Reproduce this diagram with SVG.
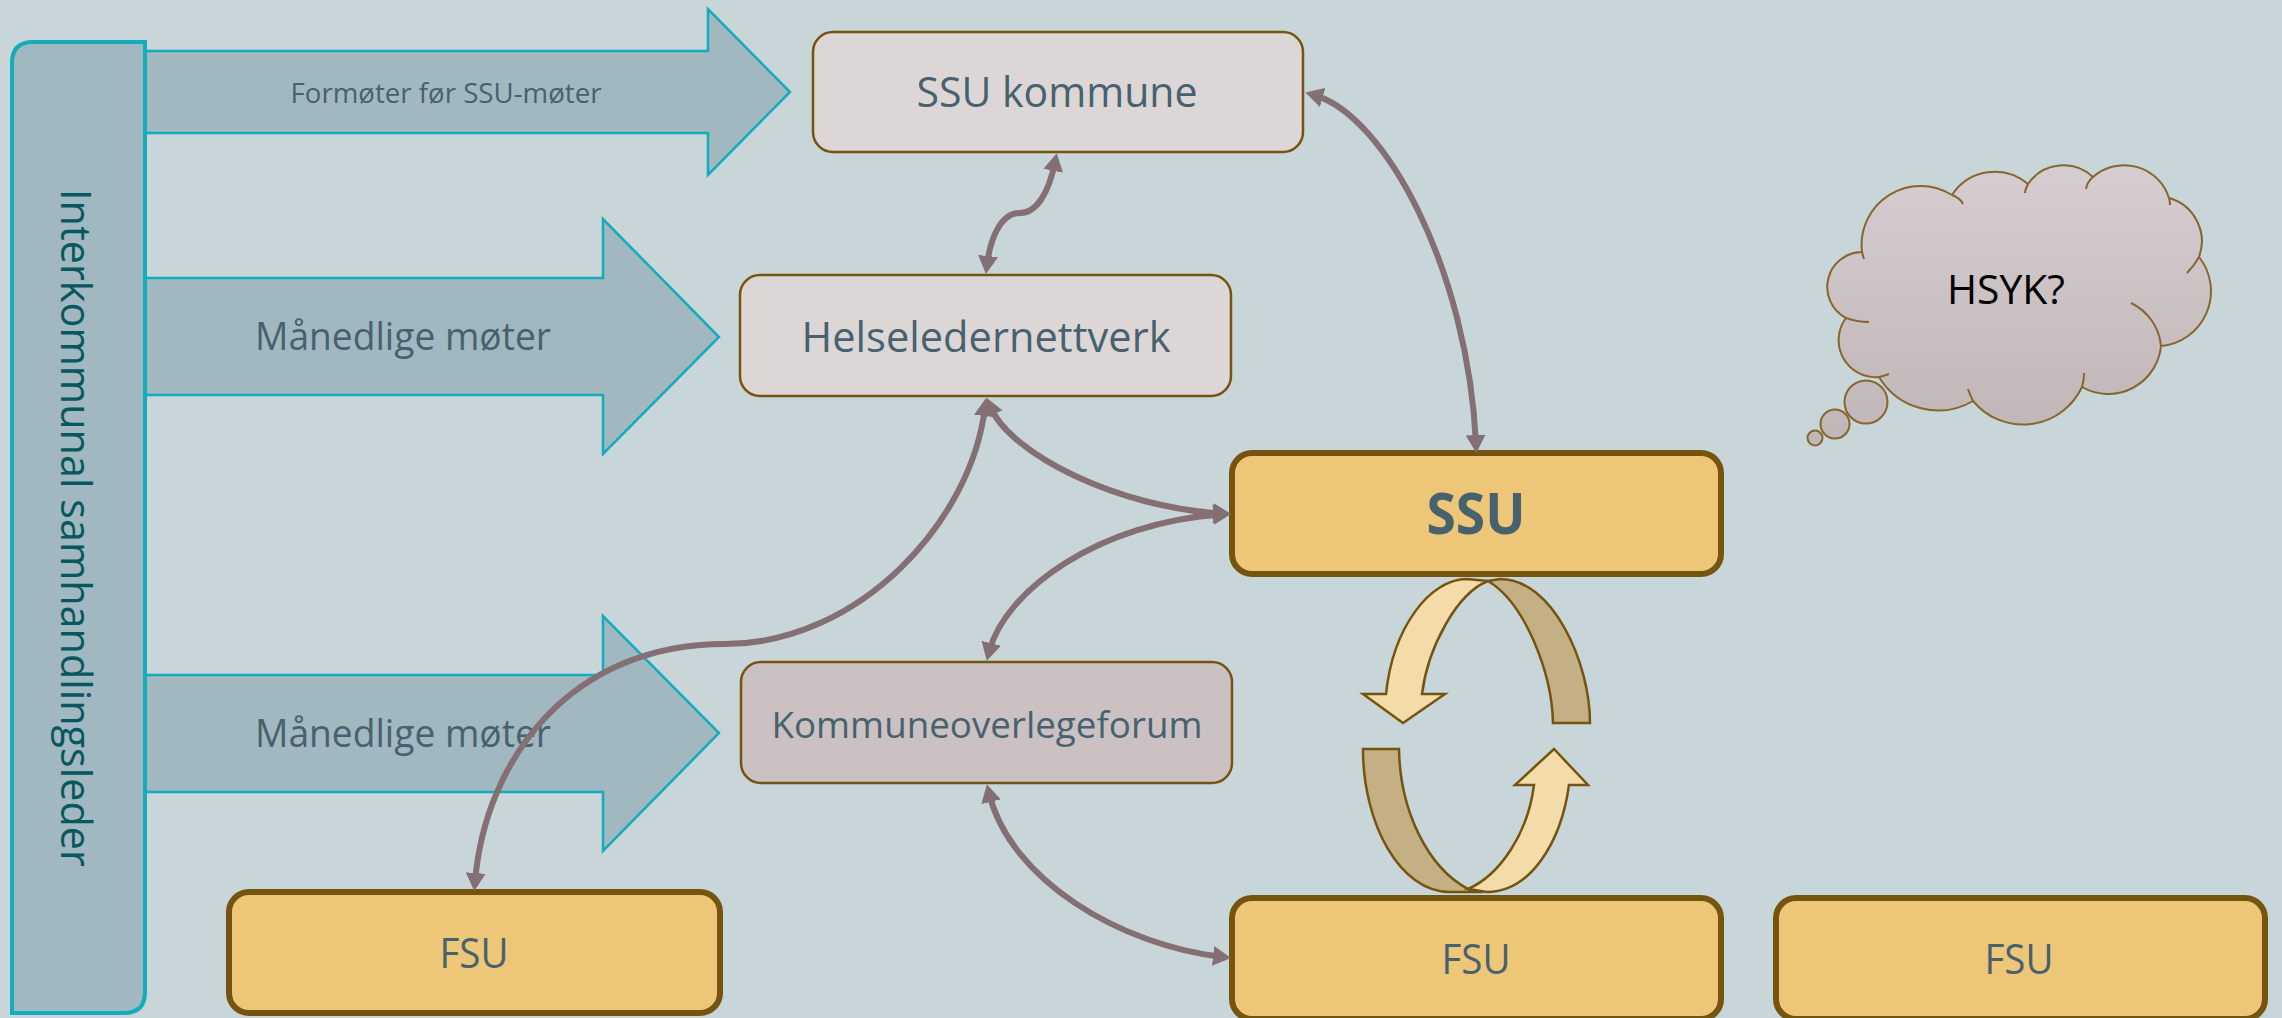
<svg xmlns="http://www.w3.org/2000/svg" width="2282" height="1018" viewBox="0 0 2282 1018">
<style>
.bar{fill:#a2b8c0;stroke:#12acbc;stroke-width:4}
.arw{fill:#a2b8c0;stroke:#12acbc;stroke-width:2.5;stroke-linejoin:miter}
.lt{stroke:#75540f;stroke-width:2.5}
.big{fill:#edc678;stroke:#75540f;stroke-width:6}
.t{font-family:"Open Sans","Noto Sans",sans-serif;fill:#47626e;text-anchor:middle}
.c{fill:none;stroke:#846f75;stroke-width:6;marker-start:url(#ms);marker-end:url(#me)}
.dk{fill:#c4b084;stroke:#75540f;stroke-width:2.5;stroke-linejoin:miter}
.li{fill:#f3dca9;stroke:#75540f;stroke-width:2.5;stroke-linejoin:miter}
.cl{fill:url(#cg);stroke:#86662c;stroke-width:2}
.cn{fill:none;stroke:#86662c;stroke-width:2}
</style>
<defs>
<linearGradient id="cg" gradientUnits="userSpaceOnUse" x1="0" y1="165" x2="0" y2="425"><stop offset="0" stop-color="#d6cdd1"/><stop offset="1" stop-color="#c1b7b8"/></linearGradient>
<marker id="me" markerUnits="userSpaceOnUse" viewBox="0 0 18 20" markerWidth="18" markerHeight="20" refX="9" refY="10" orient="auto"><path d="M0 0L18 10L0 20Z" fill="#846f75"/></marker>
<marker id="ms" markerUnits="userSpaceOnUse" viewBox="0 0 18 20" markerWidth="18" markerHeight="20" refX="9" refY="10" orient="auto"><path d="M18 0L0 10L18 20Z" fill="#846f75"/></marker>
</defs>
<rect width="2282" height="1018" fill="#c8d5d9"/>

<g id="arrow-formoter"><path class="arw" d="M145 51H708V9L790 92L708 175V133H145Z"/>
<text class="t" x="446" y="103" font-size="28" textLength="311" lengthAdjust="spacingAndGlyphs">Formøter før SSU-møter</text></g>
<g id="arrow-maanedlige-1"><path class="arw" d="M145 278H603V219L719 337L603 454V395H145Z"/>
<text class="t" x="403" y="350" font-size="39" textLength="296" lengthAdjust="spacingAndGlyphs">Månedlige møter</text></g>
<g id="arrow-maanedlige-2"><path class="arw" d="M145 675H603V616L719 733L603 851V792H145Z"/>
<text class="t" x="403" y="747" font-size="39" textLength="296" lengthAdjust="spacingAndGlyphs">Månedlige møter</text></g>
<g id="interkommunal"><path class="bar" d="M12 63Q12 42 33 42H145V992Q145 1013 124 1013H12Z"/>
<text transform="translate(61 528) rotate(90)" font-family="'Open Sans','Noto Sans',sans-serif" fill="#07575f" text-anchor="middle" font-size="42" textLength="678" lengthAdjust="spacingAndGlyphs">Interkommunal samhandlingsleder</text></g>

<g id="ssu-kommune"><rect class="lt" x="813" y="32" width="490" height="120" rx="20" fill="#dcd6d7"/>
<text class="t" x="1057" y="107" font-size="42" textLength="281" lengthAdjust="spacingAndGlyphs">SSU kommune</text></g>
<g id="helseledernettverk"><rect class="lt" x="740" y="275" width="491" height="121" rx="20" fill="#dcd6d7"/>
<text class="t" x="986" y="352" font-size="42" textLength="369" lengthAdjust="spacingAndGlyphs">Helseledernettverk</text></g>
<g id="kommuneoverlegeforum"><rect class="lt" x="741" y="662" width="491" height="121" rx="20" fill="#cbc1c2"/>
<text class="t" x="987" y="738" font-size="36" textLength="431" lengthAdjust="spacingAndGlyphs">Kommuneoverlegeforum</text></g>
<g id="ssu"><rect class="big" x="1232" y="453" width="489" height="121" rx="20"/>
<text class="t" x="1476" y="534" font-size="58" font-weight="700" textLength="99" lengthAdjust="spacingAndGlyphs">SSU</text></g>
<g id="fsu-1"><rect class="big" x="229" y="892" width="491" height="121" rx="20"/>
<text class="t" x="474" y="968" font-size="42" textLength="69" lengthAdjust="spacingAndGlyphs">FSU</text></g>
<g id="fsu-2"><rect class="big" x="1232" y="898" width="489" height="121" rx="20"/>
<text class="t" x="1476" y="974" font-size="42" textLength="69" lengthAdjust="spacingAndGlyphs">FSU</text></g>
<g id="fsu-3"><rect class="big" x="1776" y="898" width="489" height="121" rx="20"/>
<text class="t" x="2019" y="974" font-size="42" textLength="69" lengthAdjust="spacingAndGlyphs">FSU</text></g>

<g id="cycle">
<path class="dk" d="M1488 581L1500 579C1553 579 1590 663 1590 723H1553C1552 673 1525 603 1488 581Z"/>
<path class="li" d="M1386 694C1393 627 1430 579 1467 579L1488 581C1457 593 1428 647 1422 694H1445L1403 723L1363 694Z"/>
<path class="dk" d="M1363 749H1399C1400 810 1427 867 1468 889L1483 892H1450C1400 892 1363 824 1363 749Z"/>
<path class="li" d="M1468 889C1500 875 1528 833 1534 785H1515L1554 749L1588 785H1569C1561 843 1530 892 1487 892Z"/>
</g>

<g id="hsyk-cloud">
<path class="cl" d="M1862 252A59 59 0 0 1 1952 195A51 51 0 0 1 2028 184A43 43 0 0 1 2093 177A47 47 0 0 1 2169 198A45 45 0 0 1 2199 257A55 55 0 0 1 2161 346A53 53 0 0 1 2082 387A65 65 0 0 1 1973 401A69 69 0 0 1 1879 377A37 37 0 0 1 1846 318A35 35 0 0 1 1862 252Z"/>
<path class="cn" d="M1952 195Q1960 198 1963 204M2028 184Q2025 190 2025 193M2093 177Q2087 182 2086 189M2169 198Q2170 202 2170 205M2199 257Q2194 266 2187 273M2131 303A53 53 0 0 1 2161 346M2084 373Q2084 381 2082 387M1968 389Q1970 395 1973 401M1879 377Q1884 376 1889 374M1846 318Q1857 322 1869 322M1862 252Q1863 256 1864 259"/>
<circle class="cl" cx="1866" cy="402" r="21.5"/><circle class="cl" cx="1835" cy="424" r="14.5"/><circle class="cl" cx="1815" cy="438" r="7.5"/>
<text x="2006" y="304" font-family="'Open Sans','Noto Sans',sans-serif" fill="#000" text-anchor="middle" font-size="40" textLength="118" lengthAdjust="spacingAndGlyphs">HSYK?</text>
</g>

<g id="connectors">
<path class="c" d="M1314 95C1385 115 1468 270 1476 444"/>
<path class="c" d="M1055 162C1049 192 1037 213 1020 213C1000 213 990 240 987 265"/>
<path class="c" d="M990 406C1010 455 1120 508 1222 513.5"/>
<path class="c" d="M989 652C1005 590 1100 522 1222 514.5"/>
<path class="c" d="M985 407C972 520 860 644 725 644C570 644 485 760 475 882"/>
<path class="c" d="M989 793C1010 880 1120 945 1222 957"/>
</g>
</svg>
